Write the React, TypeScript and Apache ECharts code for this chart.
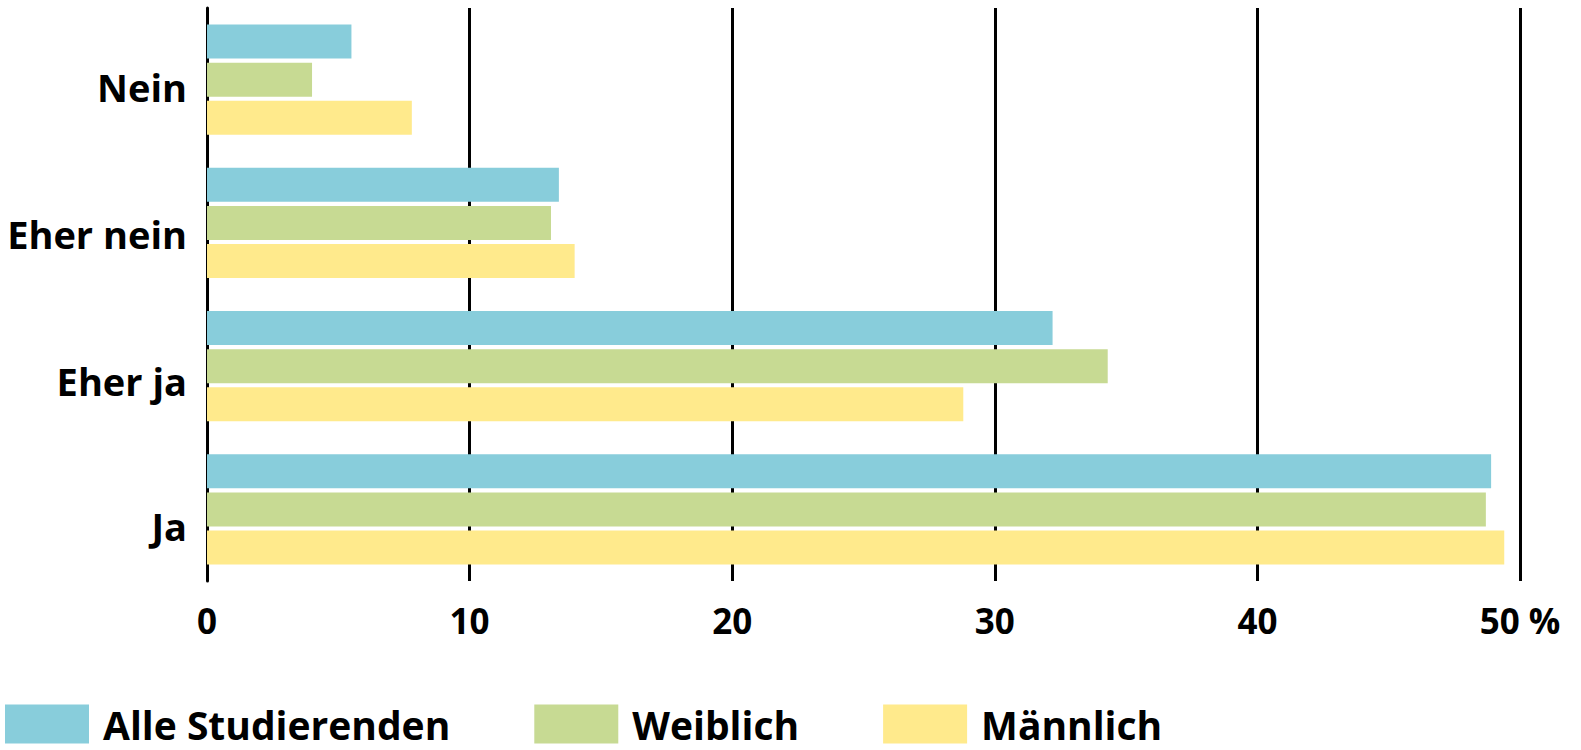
import React, { useEffect, useRef } from "react";
import * as echarts from "echarts";

const categories = ["Nein", "Eher nein", "Eher ja", "Ja"];
const seriesNames = ["Alle Studierenden", "Weiblich", "Männlich"];
const alleStudierenden = [5.5, 13.4, 32.2, 48.9];
const weiblich = [4.0, 13.1, 34.3, 48.7];
const maennlich = [7.8, 14.0, 28.8, 49.4];
const xTicks = [0, 10, 20, 30, 40, 50];

const colors = ["#88CDDB", "#C7DA93", "#FFEA8C"];
const FONT = "'Open Sans', sans-serif";

export default function App() {
  const ref = useRef<HTMLDivElement>(null);
  useEffect(() => {
    document.body.style.margin = "0";
    if (!ref.current) return;
    const chart = echarts.init(ref.current, null, { renderer: "svg" });
    const labelPadTop = [14, 22, 30, 34];
    const rich: Record<string, any> = {};
    labelPadTop.forEach((p, i) => {
      rich["r" + i] = {
        fontFamily: FONT,
        fontWeight: "bold",
        fontSize: 38,
        color: "#000",
        padding: [p, 0, 0, 0],
      };
    });
    const values = [alleStudierenden, weiblich, maennlich];
    chart.setOption({
      animation: false,
      backgroundColor: "#ffffff",
      textStyle: { fontFamily: FONT },
      grid: { left: 207, right: 61, top: 8, height: 573, containLabel: false },
      legend: {
        left: 5,
        top: 704,
        padding: 0,
        icon: "rect",
        itemWidth: 84,
        itemHeight: 39,
        itemGap: 84,
        data: seriesNames,
        textStyle: {
          fontFamily: FONT,
          fontWeight: "bold",
          fontSize: 39,
          lineHeight: 40,
          color: "#000",
          padding: [0, 0, 0, 9],
        },
      },
      xAxis: {
        type: "value",
        min: xTicks[0],
        max: xTicks[xTicks.length - 1],
        interval: 10,
        axisLine: { show: false },
        axisTick: { show: false },
        splitLine: { show: true, lineStyle: { color: "#000", width: 3 } },
        axisLabel: {
          margin: 22,
          fontFamily: FONT,
          fontWeight: "bold",
          fontSize: 35,
          color: "#000",
          formatter: (v: number) => (v === 50 ? "50 %" : String(v)),
        },
      },
      yAxis: {
        type: "category",
        inverse: true,
        data: categories,
        axisLine: { show: true, lineStyle: { color: "#000", width: 3 } },
        axisTick: { show: false },
        splitLine: { show: false },
        axisLabel: {
          margin: 20,
          fontFamily: FONT,
          fontWeight: "bold",
          fontSize: 38,
          color: "#000",
          formatter: (v: string, i: number) => `{r${i}|${v}}`,
          rich,
        },
      },
      series: seriesNames.map((name, i) => ({
        name,
        type: "bar",
        data: values[i],
        barWidth: 34,
        barGap: "12%",
        itemStyle: { color: colors[i] },
      })),
    });
    return () => chart.dispose();
  }, []);
  return <div ref={ref} style={{ width: 1581, height: 750 }} />;
}
